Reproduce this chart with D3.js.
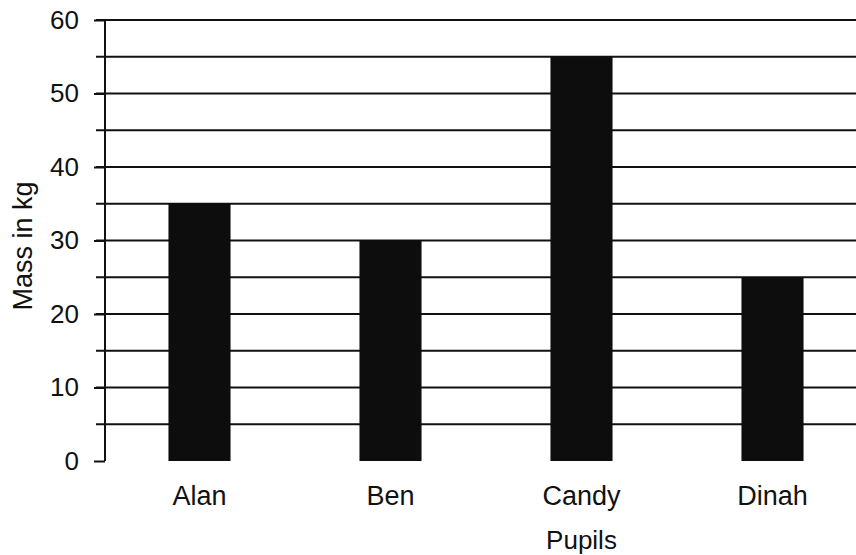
<!DOCTYPE html>
<html>
<head>
<meta charset="utf-8">
<script src="https://cdn.jsdelivr.net/npm/d3@7"></script>
<style>
  html, body { margin: 0; padding: 0; background: #fff; }
  svg { display: block; }
  text { font-family: "Liberation Sans", Arial, sans-serif; fill: #111; }
</style>
</head>
<body>
<svg id="chart" width="856" height="555"></svg>
<script>
const pupils = ["Alan", "Ben", "Candy", "Dinah"];
const massKg = [35, 30, 55, 25];
const yTickLabels = [0, 10, 20, 30, 40, 50, 60];
const gridValues = [5, 10, 15, 20, 25, 30, 35, 40, 45, 50, 55, 60];
const yTitle = "Mass in kg";
const xTitle = "Pupils";

const svg = d3.select("#chart");
const axisX = 105;

const y = d3.scaleLinear().domain([0, 60]).range([461, 20]);
const x = d3.scaleBand().domain(pupils).range([104, 868])
  .paddingInner(0.675).paddingOuter(0.3375);

// gridlines
svg.append("g").selectAll("line").data(gridValues).join("line")
  .attr("x1", 96).attr("x2", 856)
  .attr("y1", d => y(d)).attr("y2", d => y(d))
  .attr("stroke", "#111").attr("stroke-width", 2);

// bars
svg.append("g").selectAll("rect").data(pupils).join("rect")
  .attr("x", d => x(d))
  .attr("width", x.bandwidth())
  .attr("y", (d, i) => y(massKg[i]))
  .attr("height", (d, i) => y(0) - y(massKg[i]))
  .attr("fill", "#0d0d0d");

// y axis
const yAxis = d3.axisLeft(y).tickValues(yTickLabels).tickSize(11).tickPadding(15);
const gy = svg.append("g").attr("transform", `translate(${axisX},0)`).call(yAxis);
gy.select(".domain").attr("stroke", "#111").attr("stroke-width", 2)
  .attr("d", `M0,${y(0)}V${y(60)}`);
gy.selectAll(".tick line").attr("stroke", "#111").attr("stroke-width", 2);
gy.selectAll(".tick text").attr("font-size", 26).attr("fill", "#111")
  .style("font-family", '"Liberation Sans", Arial, sans-serif');

// x labels
const xAxis = d3.axisBottom(x).tickSize(0).tickPadding(25);
const gx = svg.append("g").attr("transform", `translate(0,${y(0)})`).call(xAxis);
gx.select(".domain").remove();
gx.selectAll(".tick text").attr("font-size", 27).attr("fill", "#111")
  .style("font-family", '"Liberation Sans", Arial, sans-serif');

// titles
svg.append("text").attr("x", (x("Candy") + x.bandwidth() / 2)).attr("y", 549)
  .attr("text-anchor", "middle").attr("font-size", 26).text(xTitle);
svg.append("text").attr("transform", `translate(32,246) rotate(-90)`)
  .attr("text-anchor", "middle").attr("font-size", 27).text(yTitle);
</script>
</body>
</html>
